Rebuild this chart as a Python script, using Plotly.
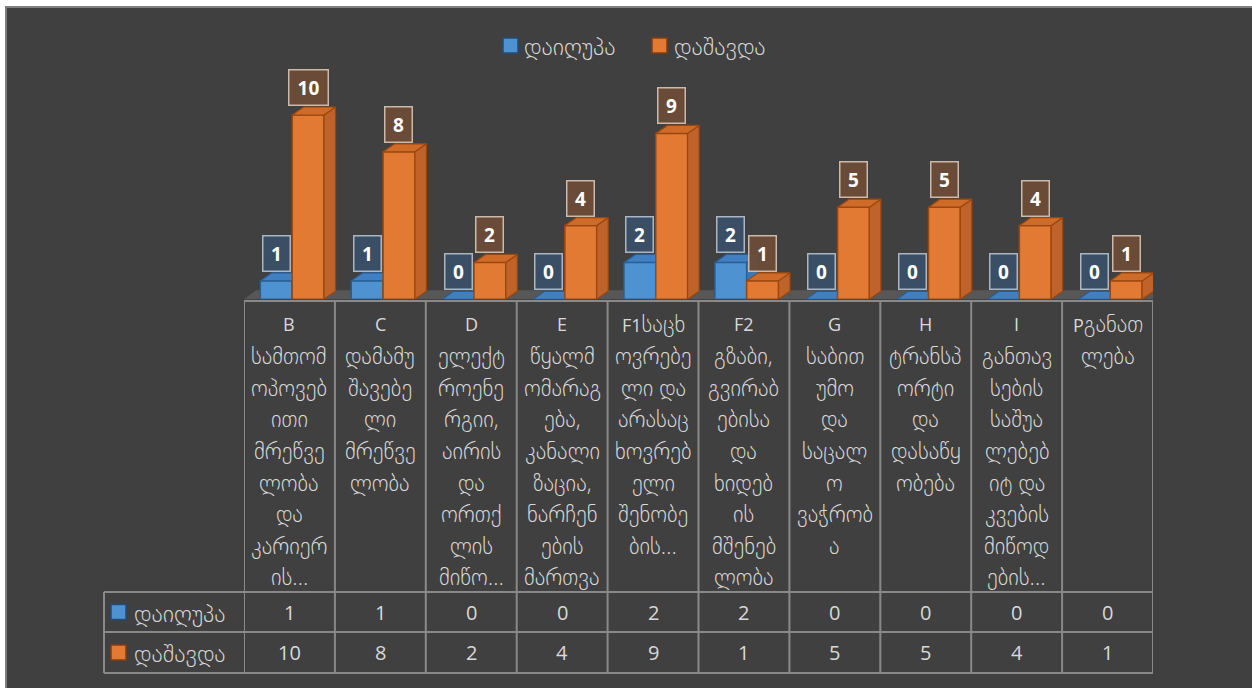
import plotly.graph_objects as go

# ---------------- data ----------------
series_names = ["დაიღუპა", "დაშავდა"]
died = [1, 1, 0, 0, 2, 2, 0, 0, 0, 0]
injured = [10, 8, 2, 4, 9, 1, 5, 5, 4, 1]
category_lines = [
    ["B", "სამთომ", "ოპოვებ", "ითი", "მრეწვე", "ლობა", "და", "კარიერ", "ის…"],
    ["C", "დამამუ", "შავებე", "ლი", "მრეწვე", "ლობა"],
    ["D", "ელექტ", "როენე", "რგიი,", "აირის", "და", "ორთქ", "ლის", "მიწო…"],
    ["E", "წყალმ", "ომარაგ", "ება,", "კანალი", "ზაცია,", "ნარჩენ", "ების", "მართვა"],
    ["F1საცხ", "ოვრებე", "ლი და", "არასაც", "ხოვრებ", "ელი", "შენობე", "ბის…"],
    ["F2", "გზაბი,", "გვირაბ", "ებისა", "და", "ხიდებ", "ის", "მშენებ", "ლობა"],
    ["G", "საბით", "უმო", "და", "საცალ", "ო", "ვაჭრობ", "ა"],
    ["H", "ტრანსპ", "ორტი", "და", "დასაწყ", "ობება"],
    ["I", "განთავ", "სების", "საშუა", "ლებებ", "იტ და", "კვების", "მიწოდ", "ების…"],
    ["Pგანათ", "ლება"],
]

# ---------------- style / geometry ----------------
W, H = 1252, 688
BG = "#404040"
TXT = "#d9d9d9"
GRID = "#898989"
FONT = "Open Sans, DejaVu Sans, sans-serif"
GEO_SIZE = 22.5
LEG_SIZE = 24
LAT_SIZE = 18
WEIGHT = 200

BLUE_FRONT, BLUE_SIDE, BLUE_TOP, BLUE_EDGE = "#4e92d2", "#3c78b4", "#3f7fc2", "#2a5d92"
OR_FRONT, OR_SIDE, OR_TOP, OR_EDGE = "#e27a33", "#c0632a", "#cf6b28", "#99470f"

X0, X1 = 244, 1153          # table category columns (px)
LEG_X = 104                 # left edge of legend column
BASE = 299.3                # bar baseline (px)
TOP = 50
PX_PER_UNIT = 18.43
TABLE_TOP, ROW1, ROW2, TABLE_BOT = 301, 592, 632, 673

n = len(died)
col_px = (X1 - X0) / n


def px(v):
    return v / W


def py(v):
    return 1 - v / H


def is_geo(ch):
    return "\u10a0" <= ch <= "\u10ff" or ch in ",…"


def mixed(text):
    """Georgian runs at the base font size, Latin runs in a span of LAT_SIZE."""
    out, run, run_geo = [], "", None
    for ch in text:
        g = is_geo(ch) or (ch == " " and bool(run_geo))
        if run_geo is None:
            run, run_geo = ch, g
        elif g == run_geo:
            run += ch
        else:
            out.append((run, run_geo))
            run, run_geo = ch, g
    if run:
        out.append((run, run_geo))
    return "".join(
        t if g else f'<span style="font-size:{LAT_SIZE}px;font-weight:400">{t}</span>'
        for t, g in out)


DX = 11.5 / col_px
DY = 8 / PX_PER_UNIT
BW = 0.35
OFFS = [-0.32, 0.03]

fig = go.Figure()


def add_series(vals, off, front, side, top, edge, xa, ya, name):
    xs = list(range(len(vals)))
    fig.add_trace(go.Bar(
        x=xs, y=vals, width=BW, offset=off, name=name,
        marker=dict(color=front, line=dict(color=edge, width=1.5)),
        xaxis=xa, yaxis=ya, showlegend=False, hoverinfo="skip"))
    sx, sy, tx, ty = [], [], [], []
    for i, v in enumerate(vals):
        l = i + off
        r = l + BW
        sx += [r, r + DX, r + DX, r, r, None]
        sy += [0, DY, v + DY, v, 0, None]
        tx += [l, r, r + DX, l + DX, l, None]
        ty += [v, v, v + DY, v + DY, v, None]
    fig.add_trace(go.Scatter(x=sx, y=sy, mode="lines", fill="toself",
                             fillcolor=side, line=dict(color=edge, width=1.2),
                             xaxis=xa, yaxis=ya, showlegend=False, hoverinfo="skip"))
    fig.add_trace(go.Scatter(x=tx, y=ty, mode="lines", fill="toself",
                             fillcolor=top, line=dict(color=edge, width=1.2),
                             xaxis=xa, yaxis=ya, showlegend=False, hoverinfo="skip"))


add_series(died, OFFS[0], BLUE_FRONT, BLUE_SIDE, BLUE_TOP, BLUE_EDGE, "x", "y", series_names[0])
add_series(injured, OFFS[1], OR_FRONT, OR_SIDE, OR_TOP, OR_EDGE, "x2", "y2", series_names[1])

shapes = []
shapes.append(dict(type="rect", xref="paper", yref="paper",
                   x0=px(6), x1=1.02, y0=py(7), y1=-0.02,
                   fillcolor=BG, line=dict(color="#7f7f7f", width=2), layer="below"))
FDX = 12 / col_px
FDY = 9 / PX_PER_UNIT
shapes.append(dict(type="path", xref="x", yref="y", layer="below",
                   path=f"M -0.5,0 L {n-0.5},0 L {n-0.5+FDX},{FDY} L {-0.5+FDX},{FDY} Z",
                   fillcolor="#575757", line=dict(width=0)))

line_style = dict(color=GRID, width=2)
for i in range(n + 1):
    shapes.append(dict(type="line", xref="x", yref="paper",
                       x0=i - 0.5, x1=i - 0.5, y0=py(TABLE_TOP), y1=py(TABLE_BOT), line=line_style))
shapes.append(dict(type="line", xref="paper", yref="paper",
                   x0=px(LEG_X), x1=px(LEG_X), y0=py(ROW1), y1=py(TABLE_BOT), line=line_style))
shapes.append(dict(type="line", xref="paper", yref="paper",
                   x0=px(X0), x1=px(X1), y0=py(TABLE_TOP), y1=py(TABLE_TOP), line=line_style))
for yy in (ROW1, ROW2, TABLE_BOT):
    shapes.append(dict(type="line", xref="paper", yref="paper",
                       x0=px(LEG_X), x1=px(X1), y0=py(yy), y1=py(yy), line=line_style))

annotations = []
for i, lines in enumerate(category_lines):
    for k, t in enumerate(lines):
        annotations.append(dict(x=i, y=py(324 + 31.6 * k), xref="x", yref="paper",
                                text=mixed(t), showarrow=False, xanchor="center", yanchor="middle",
                                font=dict(family=FONT, size=GEO_SIZE, color=TXT, weight=WEIGHT)))
row_y = [(ROW1 + ROW2) / 2, (ROW2 + TABLE_BOT) / 2]
for r, vals in enumerate((died, injured)):
    for i, v in enumerate(vals):
        annotations.append(dict(x=i, y=py(row_y[r]), xref="x", yref="paper",
                                text=str(v), showarrow=False, xanchor="center", yanchor="middle",
                                font=dict(family=FONT, size=20, color=TXT)))
key_cols = [(BLUE_FRONT, "#1f4e79"), (OR_FRONT, "#843c0c")]
for r in range(2):
    cy = row_y[r]
    shapes.append(dict(type="rect", xref="paper", yref="paper",
                       x0=px(111), x1=px(126), y0=py(cy + 7.5), y1=py(cy - 7.5),
                       fillcolor=key_cols[r][0], line=dict(color=key_cols[r][1], width=1.5)))
    annotations.append(dict(x=px(132), y=py(cy), xref="paper", yref="paper",
                            text=series_names[r], showarrow=False, xanchor="left", yanchor="middle",
                            font=dict(family=FONT, size=LEG_SIZE, color=TXT, weight=WEIGHT)))
leg_items = [(503, 522), (652, 672)]
for r, (sq, tx) in enumerate(leg_items):
    shapes.append(dict(type="rect", xref="paper", yref="paper",
                       x0=px(sq), x1=px(sq + 15), y0=py(53), y1=py(38),
                       fillcolor=key_cols[r][0], line=dict(color=key_cols[r][1], width=1.5)))
    annotations.append(dict(x=px(tx), y=py(45.5), xref="paper", yref="paper",
                            text=series_names[r], showarrow=False, xanchor="left", yanchor="middle",
                            font=dict(family=FONT, size=LEG_SIZE, color=TXT, weight=WEIGHT)))
lab_styles = [("rgba(58,80,104,0.95)", "#a9b6c4"), ("rgba(108,76,56,0.95)", "#cbb9aa")]
for r, vals in enumerate((died, injured)):
    for i, v in enumerate(vals):
        txt = str(v)
        annotations.append(dict(x=i + OFFS[r] + BW / 2, y=v + DY, xref="x", yref="y",
                                text=f"<b>{txt}</b>", showarrow=False,
                                xanchor="center", yanchor="bottom", yshift=1,
                                width=26 if len(txt) == 1 else 38, height=34,
                                bgcolor=lab_styles[r][0], bordercolor=lab_styles[r][1],
                                borderwidth=1.5, borderpad=0,
                                font=dict(family=FONT, size=19, color="#ffffff")))

ax_common = dict(visible=False, showgrid=False, zeroline=False, fixedrange=True)
fig.update_layout(
    width=W, height=H,
    margin=dict(l=0, r=0, t=0, b=0, pad=0),
    paper_bgcolor="#ffffff", plot_bgcolor="rgba(0,0,0,0)",
    barmode="overlay", showlegend=False,
    xaxis=dict(domain=[px(X0), px(X1)], range=[-0.5, n - 0.5], **ax_common),
    yaxis=dict(domain=[py(BASE), py(TOP)], range=[0, (BASE - TOP) / PX_PER_UNIT], **ax_common),
    xaxis2=dict(overlaying="x", range=[-0.5, n - 0.5], **ax_common),
    yaxis2=dict(overlaying="y", range=[0, (BASE - TOP) / PX_PER_UNIT], **ax_common),
    shapes=shapes, annotations=annotations,
)

fig.write_html("out.html", config={"displayModeBar": False},
               post_script="document.body.style.margin='0px';")
